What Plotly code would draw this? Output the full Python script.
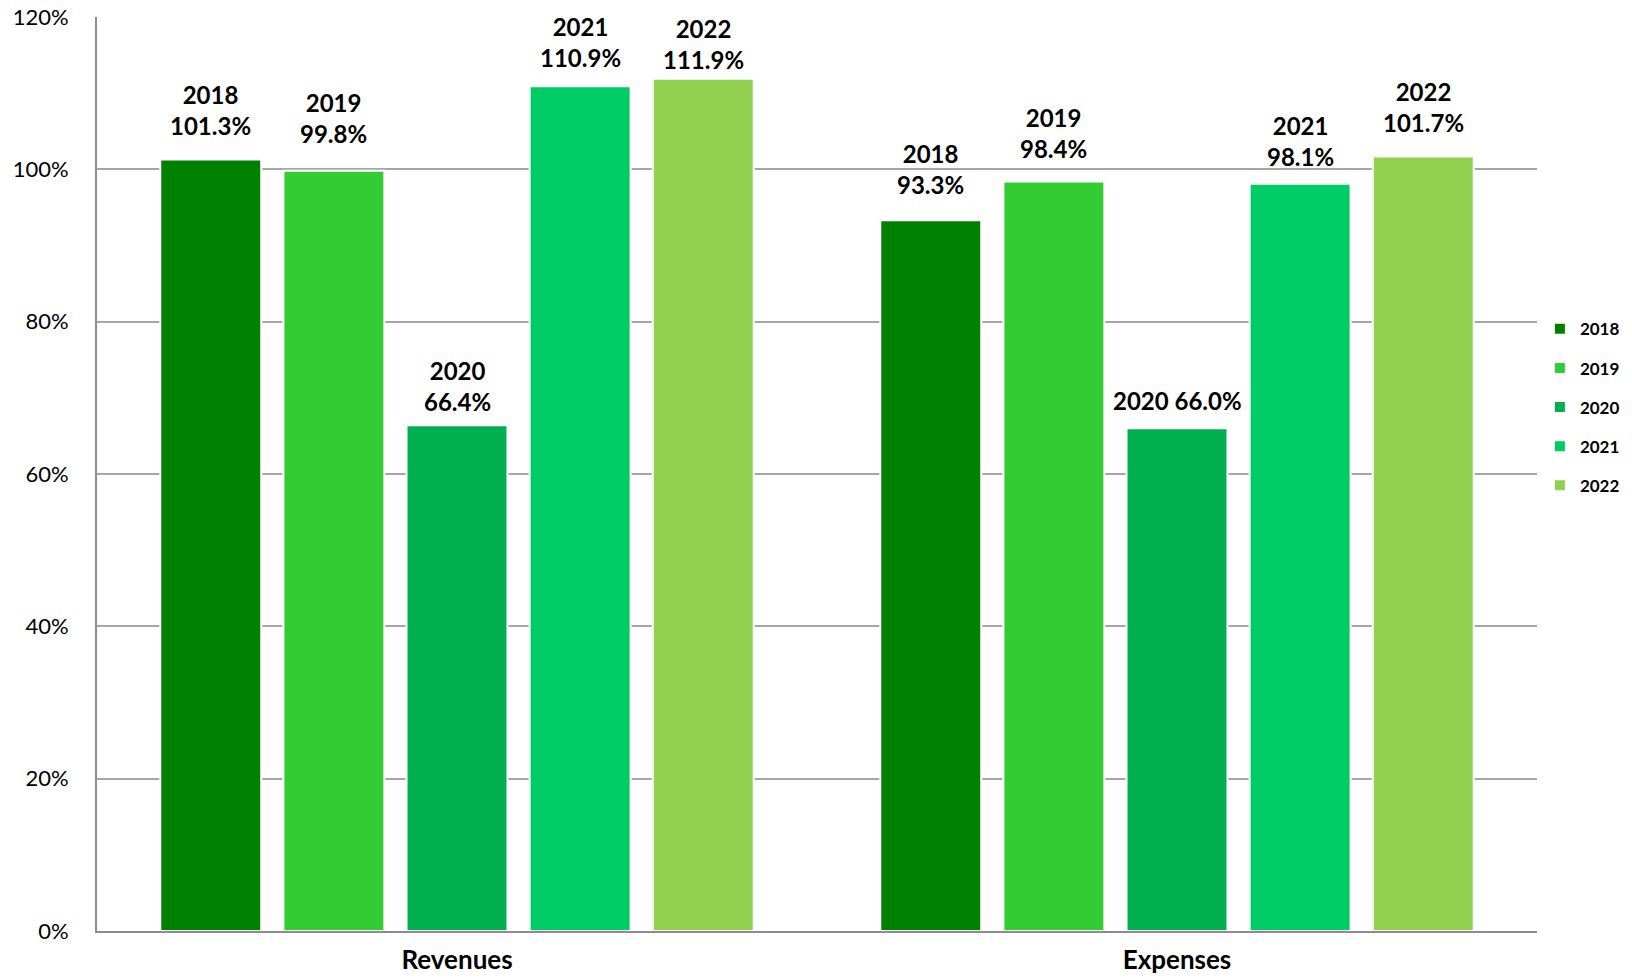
import plotly.graph_objects as go

categories = ["Revenues", "Expenses"]
years = ["2018", "2019", "2020", "2021", "2022"]
values = {
    "2018": [101.3, 93.3],
    "2019": [99.8, 98.4],
    "2020": [66.4, 66.0],
    "2021": [110.9, 98.1],
    "2022": [111.9, 101.7],
}
colors = {
    "2018": "#008000",
    "2019": "#33CC33",
    "2020": "#00B050",
    "2021": "#00CC66",
    "2022": "#92D050",
}
# label layout (style only): one label sits on a single line, and the
# distance between each label and its bar varies in the reference
single_line = {("2020", "Expenses")}
label_lift = {
    "2018": [17, 19],
    "2019": [21, 17],
    "2020": [7, 11],
    "2021": [12, 11],
    "2022": [3, 17],
}

BARGAP = 0.145
BARGROUPGAP = 0.18

fig = go.Figure()
annotations = []
n = len(years)
slot = (1 - BARGAP) / n
for i, yr in enumerate(years):
    fig.add_trace(go.Bar(
        name=yr,
        x=categories,
        y=values[yr],
        marker=dict(color=colors[yr], line=dict(color="white", width=2)),
        legendgroup=yr,
        hoverinfo="skip",
    ))
    for c, (cat, v) in enumerate(zip(categories, values[yr])):
        if (yr, cat) in single_line:
            txt = f"{yr} {v:.1f}%"
        else:
            txt = f"{yr}<br>{v:.1f}%"
        annotations.append(dict(
            x=c + (i - (n - 1) / 2) * slot,
            y=v, xref="x", yref="y",
            text=txt, showarrow=False,
            xanchor="center", yanchor="bottom",
            yshift=label_lift[yr][c],
            font=dict(family="Lato", size=24, color="black", weight="bold"),
        ))

fig.update_layout(
    width=1632, height=980,
    margin=dict(l=97, r=95, t=17, b=49, autoexpand=False),
    paper_bgcolor="white",
    plot_bgcolor="white",
    barmode="group",
    bargap=BARGAP,
    bargroupgap=BARGROUPGAP,
    font=dict(family="Lato", color="black"),
    annotations=annotations,
    legend=dict(
        x=1.002, xanchor="left", y=0.573, yanchor="middle",
        font=dict(family="Lato", size=17, color="black", weight="bold"),
        tracegroupgap=14,
        itemwidth=30,
        traceorder="grouped",
    ),
)
fig.update_yaxes(
    range=[0, 120], dtick=20, ticksuffix="%",
    showgrid=True, gridcolor="#A6A6A6", gridwidth=2,
    showline=True, linecolor="#8C8C8C", linewidth=2,
    ticks="", ticklabelstandoff=22,
    tickfont=dict(family="Lato", size=22, color="black"),
    zeroline=False,
)
fig.update_xaxes(
    showline=True, linecolor="#8C8C8C", linewidth=2,
    ticks="", ticklabelstandoff=5,
    tickfont=dict(family="Lato", size=26, color="black", weight="bold"),
)

fig.write_html("out.html")
